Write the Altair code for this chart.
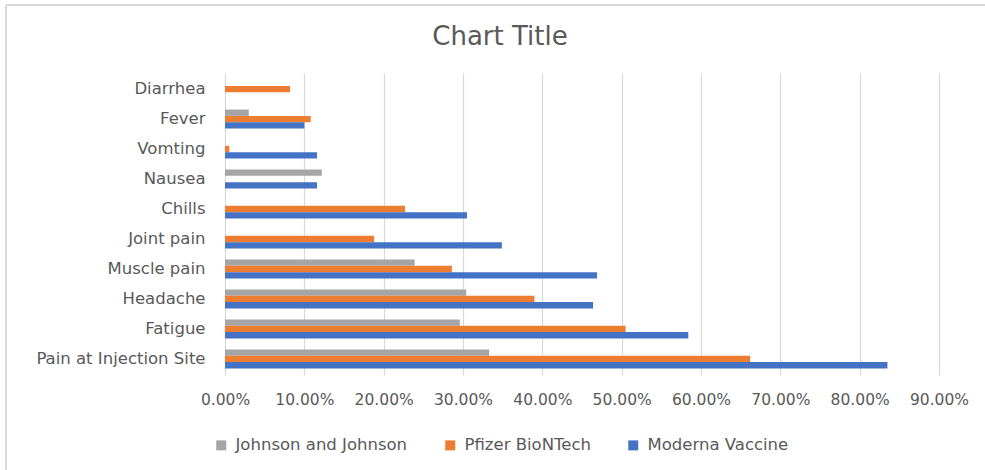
import altair as alt
import pandas as pd

symptoms = ["Diarrhea", "Fever", "Vomting", "Nausea", "Chills", "Joint pain",
            "Muscle pain", "Headache", "Fatigue", "Pain at Injection Site"]
vaccines = ["Johnson and Johnson", "Pfizer BioNTech", "Moderna Vaccine"]
colors = ["#a5a5a5", "#ed7d31", "#4472c4"]

jj = [None, 0.030, None, 0.122, None, None, 0.239, 0.304, 0.296, 0.333]
pfizer = [0.082, 0.108, 0.0055, None, 0.227, 0.188, 0.286, 0.390, 0.505, 0.662]
moderna = [None, 0.100, 0.116, 0.116, 0.305, 0.349, 0.469, 0.464, 0.584, 0.835]

tick_vals = [0.0, 0.1, 0.2, 0.3, 0.4, 0.5, 0.6, 0.7, 0.8, 0.9]
chart_title = "Chart Title"

rows = []
for name, series in zip(vaccines, [jj, pfizer, moderna]):
    for s, v in zip(symptoms, series):
        if v is not None:
            rows.append({"Symptom": s, "Vaccine": name, "Value": v})
df = pd.DataFrame(rows)

FONT = "DejaVu Sans"
TXT = "#595959"
LEFT, TOP, W, H = 225, 73, 714, 302

bars = alt.Chart(df).mark_bar(cornerRadius=0).encode(
    y=alt.Y("Symptom:N", sort=symptoms, title=None,
            scale=alt.Scale(paddingInner=0.37, paddingOuter=0.22),
            axis=alt.Axis(ticks=False, domain=False, labelPadding=20,
                          labelFontSize=16.5, labelColor=TXT, labelFont=FONT,
                          labelLimit=300, grid=False)),
    yOffset=alt.YOffset("Vaccine:N", sort=vaccines,
                        scale=alt.Scale(domain=vaccines, paddingInner=0, paddingOuter=0)),
    x=alt.X("Value:Q", title=None,
            scale=alt.Scale(domain=[0, 0.9], nice=False),
            axis=alt.Axis(values=tick_vals, format=".2%", ticks=False, domain=False,
                          labelPadding=17, labelFontSize=15.5, labelColor=TXT,
                          labelFont=FONT, labelFlush=False,
                          gridColor="#d9d9d9", gridWidth=1.2)),
    color=alt.Color("Vaccine:N", sort=vaccines,
                    scale=alt.Scale(domain=vaccines, range=colors),
                    legend=alt.Legend(title=None, orient="none", direction="horizontal",
                                      legendX=-12, legendY=364,
                                      symbolType="square", symbolSize=100,
                                      symbolStrokeWidth=0, labelLimit=400,
                                      labelFontSize=16.5, labelColor=TXT, labelFont=FONT,
                                      columnPadding=34, labelOffset=6)),
)

frame = pd.DataFrame({"k": [0]})
left_line = alt.Chart(frame).mark_rule(color="#d9d9d9", strokeWidth=2).encode(
    x=alt.value(6 - LEFT), y=alt.value(5 - TOP), y2=alt.value(470 - TOP))
top_line = alt.Chart(frame).mark_rule(color="#d9d9d9", strokeWidth=2).encode(
    y=alt.value(5 - TOP), x=alt.value(6 - LEFT), x2=alt.value(985 - LEFT))
title_text = alt.Chart(frame).mark_text(
    font=FONT, fontSize=26, color=TXT, align="center", baseline="middle"
).encode(text=alt.value(chart_title), x=alt.value(500 - LEFT), y=alt.value(37 - TOP))

chart = alt.layer(bars, left_line, top_line, title_text).properties(
    width=W,
    height=H,
    autosize=alt.AutoSizeParams(type="none"),
    padding={"left": LEFT, "top": TOP, "right": 985 - LEFT - W, "bottom": 470 - TOP - H},
    background="white",
).configure_view(strokeWidth=0, stroke=None)

chart.save("out.html", embed_options={"renderer": "svg", "actions": False})
